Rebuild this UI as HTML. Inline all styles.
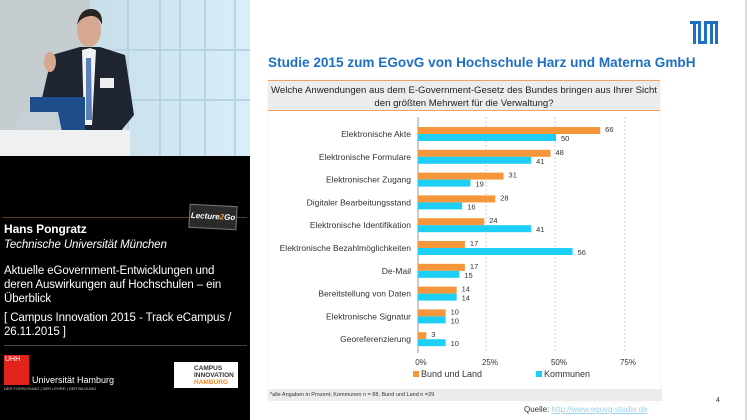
<!DOCTYPE html>
<html><head><meta charset="utf-8"><style>
body{margin:0;width:747px;height:420px;overflow:hidden;background:#fff;font-family:"Liberation Sans",sans-serif;position:relative}
.abs{position:absolute}
</style></head><body>
<div class="abs" style="left:0;top:0;width:250px;height:420px;background:#000"></div>
<svg class="abs" style="left:0;top:0" width="250" height="158">
<defs><linearGradient id="w" x1="0" x2="1"><stop offset="0" stop-color="#b8c4cc"/><stop offset="0.4" stop-color="#c9dfea"/><stop offset="1" stop-color="#d8eef8"/></linearGradient></defs>
<rect width="250" height="158" fill="url(#w)"/>
<rect x="0" y="0" width="90" height="158" fill="#c6cdd1"/>
<g stroke="#b6d4e4" stroke-width="2" fill="none"><line x1="128" y1="0" x2="128" y2="158"/><line x1="160" y1="0" x2="160" y2="158"/><line x1="180" y1="0" x2="180" y2="158"/><line x1="205" y1="0" x2="205" y2="158"/><line x1="235" y1="0" x2="235" y2="158"/><line x1="100" y1="50" x2="250" y2="50"/><line x1="100" y1="100" x2="250" y2="100"/></g>
<path d="M42 98 L52 55 L80 47 L100 47 L125 55 L134 115 L120 132 L45 132 Z" fill="#1e2430"/>
<path d="M82 50 L90 48 L96 50 L92 125 L84 125 Z" fill="#f0f2f4"/>
<path d="M86 58 L91 58 L92 120 L86 120 Z" fill="#5d7fb8"/>
<ellipse cx="89" cy="30" rx="12" ry="17" fill="#d6a890"/>
<path d="M77 25 Q80 8 92 9 Q103 10 102 25 Q98 15 90 16 Q81 17 77 25Z" fill="#2a2522"/>
<rect x="100" y="78" width="14" height="10" fill="#eee"/>
<ellipse cx="50" cy="62" rx="6" ry="10" fill="#d6a890"/>
<rect x="30" y="97" width="55" height="35" fill="#1d4d8a"/>
<path d="M15 132 L20 112 L58 112 L62 132 Z" fill="#c8cfd5"/>
<rect x="0" y="130" width="130" height="28" fill="#eef0f1"/>
<rect x="0" y="156" width="250" height="2" fill="#000"/>
</svg>
<div class="abs" style="left:2px;top:217px;width:245px;height:1px;background:#5a3e22"></div>
<div class="abs" style="left:189px;top:205px;width:46px;height:22px;background:#2a2a2a;border:1px solid #777;transform:rotate(3deg);color:#fff;font-size:8px;font-style:italic;font-weight:bold;line-height:22px;text-align:center">Lecture<span style="color:#f39b2a">2</span>Go</div>
<div class="abs" style="left:4px;top:221px;color:#fff;font-size:11.5px;line-height:16px;width:245px;letter-spacing:-0.1px">
<div style="font-weight:bold;font-size:12px">Hans Pongratz</div>
<div style="font-style:italic">Technische Universität München</div>
<div style="margin-top:11px;line-height:14px;width:240px">Aktuelle eGovernment-Entwicklungen und deren Auswirkungen auf Hochschulen – ein Überblick</div>
<div style="margin-top:5px;line-height:14px;width:240px">[ Campus Innovation 2015 - Track eCampus / 26.11.2015 ]</div>
</div>
<div class="abs" style="left:4px;top:345px;width:243px;height:1px;background:#444"></div>
<div class="abs" style="left:4px;top:355px;width:23px;height:28px;background:#e2231a;color:#fff;font-size:7px;padding:1px">UHH</div>
<div class="abs" style="left:32px;top:375px;color:#fff;font-size:9px">Universität Hamburg</div>
<div class="abs" style="left:4px;top:386px;color:#ccc;font-size:4px">DER FORSCHUNG | DER LEHRE | DER BILDUNG</div>
<div class="abs" style="left:174px;top:362px;width:64px;height:26px;background:#fff;font-size:6.5px;font-weight:bold;line-height:7px;color:#333;padding-left:20px;box-sizing:border-box;padding-top:3px">CAMPUS<br>INNOVATION<br><span style="color:#e88a2a">HAMBURG</span></div>
<div class="abs" style="left:745px;top:0;width:2px;height:420px;background:#ddd"></div>
<svg class="abs" style="left:690px;top:21px" width="28" height="24"><g fill="#1f6fc5"><rect x="0" y="0" width="9" height="3"/><rect x="3" y="0" width="3" height="23"/><rect x="8" y="0" width="3" height="23"/><rect x="8" y="20" width="9" height="3"/><rect x="14" y="0" width="3" height="23"/><rect x="14" y="0" width="14" height="3"/><rect x="20" y="0" width="3" height="23"/><rect x="25" y="0" width="3" height="23"/></g></svg>
<div class="abs" style="left:268px;top:55px;color:#1f6fc5;font-size:13.6px;font-weight:bold;white-space:nowrap">Studie 2015 zum EGovG von Hochschule Harz und Materna GmbH</div>
<div class="abs" style="left:268px;top:80px;width:392px;height:322px;background:#fff;box-shadow:0 0 1px #ddd"></div>
<div class="abs" style="left:268px;top:80px;width:392px;height:31px;background:#ececec;border-top:1px solid #f0a060;border-bottom:1.5px solid #f0a060;font-size:9.6px;text-align:center;line-height:13px;padding-top:3px;box-sizing:border-box;color:#222;white-space:nowrap">Welche Anwendungen aus dem E-Government-Gesetz des Bundes bringen aus Ihrer Sicht<br>den größten Mehrwert für die Verwaltung?</div>
<svg class="abs" style="left:268px;top:115px" width="392" height="275" font-family="Liberation Sans,sans-serif">
<g stroke="#ccc" stroke-dasharray="2,2"><line x1="218" y1="2" x2="218" y2="236"/><line x1="287" y1="2" x2="287" y2="236"/><line x1="357" y1="2" x2="357" y2="236"/></g>
<line x1="150" y1="2" x2="150" y2="238" stroke="#999"/>
<g id="rows" font-size="8.5" fill="#333"></g>
<g font-size="8" fill="#333" text-anchor="middle"><text x="153" y="250">0%</text><text x="222" y="250">25%</text><text x="291" y="250">50%</text><text x="360" y="250">75%</text></g>
<rect x="145" y="256" width="6" height="6" fill="#f5963a"/><text x="153" y="262" font-size="9" fill="#333">Bund und Land</text>
<rect x="268" y="256" width="6" height="6" fill="#1ecff5"/><text x="276" y="262" font-size="9" fill="#333">Kommunen</text>
</svg>
<div class="abs" style="left:268px;top:389px;width:392px;height:12px;background:#ececec;font-size:5.5px;line-height:12px;padding-left:2px;color:#333">*alle Angaben in Prozent; Kommunen n = 88, Bund und Land n =29</div>
<div class="abs" style="left:524px;top:405px;font-size:8px;color:#333">Quelle: <span style="color:#9cd0f0;text-decoration:underline">http://www.egovg-studie.de</span></div>
<div class="abs" style="left:716px;top:397px;font-size:7px;color:#333">4</div>
<script>
var d=[["Elektronische Akte",66,50],["Elektronische Formulare",48,41],["Elektronischer Zugang",31,19],["Digitaler Bearbeitungsstand",28,16],["Elektronische Identifikation",24,41],["Elektronische Bezahlmöglichkeiten",17,56],["De-Mail",17,15],["Bereitstellung von Daten",14,14],["Elektronische Signatur",10,10],["Georeferenzierung",3,10]];
var s="";d.forEach(function(r,i){var c=19+i*22.8;var a=r[1]*2.76,b=r[2]*2.76;
s+='<text x="143" y="'+(c+3)+'" text-anchor="end">'+r[0]+'</text>';
s+='<rect x="150" y="'+(c-7)+'" width="'+a+'" height="7" fill="#f5963a"/>';
s+='<rect x="150" y="'+c+'" width="'+b+'" height="7" fill="#1ecff5"/>';
s+='<text x="'+(155+a)+'" y="'+(c-2)+'" font-size="7.5">'+r[1]+'</text>';
s+='<text x="'+(155+b)+'" y="'+(c+7)+'" font-size="7.5">'+r[2]+'</text>';});
document.getElementById("rows").innerHTML=s;
</script>
</body></html>
